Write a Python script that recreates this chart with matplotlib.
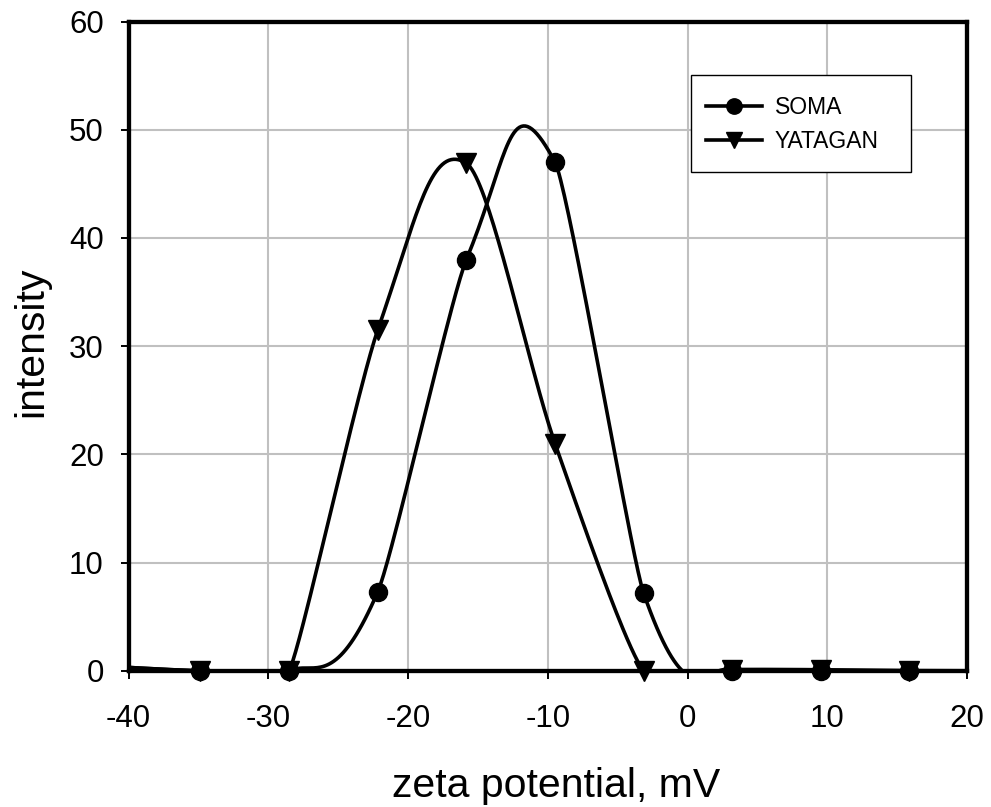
import matplotlib.pyplot as plt
from matplotlib.patches import Rectangle
import numpy as np

plt.rcParams['font.family'] = ['Liberation Sans', 'DejaVu Sans']
plt.rcParams['axes.unicode_minus'] = False

# zeta potential (mV) of the measured points, the first and last lie outside the axis range
zeta = [-41.19, -34.85, -28.51, -22.17, -15.83, -9.49, -3.16, 3.18, 9.52, 15.86, 22.2]
soma = [0.4, 0, 0, 7.3, 38.0, 47.0, 7.2, 0, 0, 0, 0]
yatagan = [0.4, 0, 0, 31.5, 46.9, 21.0, 0, 0.12, 0.1, 0.02, 0]

xticks = [-40, -30, -20, -10, 0, 10, 20]
yticks = [0, 10, 20, 30, 40, 50, 60]

ax_rect = [128.5/991, 1 - 670.8/807, 838.8/991, 649.3/807]


def smooth(x, y, kx, ky, n=40):
    # smoothed line like the spreadsheet one: cubic pieces, tangent from the neighbours,
    # its size set by the lengths of the segments on screen (kx, ky = pixels per unit)
    p = np.column_stack([x, y]).astype(float)
    ext = np.vstack([p[0], p, p[-1]])
    q = ext * [kx, ky]
    t = np.linspace(0, 1, n)[:, None]
    h00 = 2*t**3 - 3*t**2 + 1
    h10 = t**3 - 2*t**2 + t
    h01 = -2*t**3 + 3*t**2
    h11 = t**3 - t**2
    pieces = []
    for i in range(1, len(ext) - 2):
        lp = np.hypot(*(q[i] - q[i-1]))
        l = np.hypot(*(q[i+1] - q[i]))
        ln = np.hypot(*(q[i+2] - q[i+1]))
        m0 = lp / (lp + l) * (ext[i+1] - ext[i-1])
        m1 = ln / (l + ln) * (ext[i+2] - ext[i])
        pieces.append(h00*ext[i] + h10*m0 + h01*ext[i+1] + h11*m1)
    c = np.vstack(pieces)
    return c[:, 0], c[:, 1]


fig = plt.figure(figsize=(9.91, 8.07), dpi=100)
ax = fig.add_axes(ax_rect)

kx = ax_rect[2] * 991 / (xticks[-1] - xticks[0])
ky = ax_rect[3] * 807 / (yticks[-1] - yticks[0])

x = np.array(zeta)
inside = (x >= -40) & (x <= 20)

for vals, mk, ms, name in [(soma, 'o', 13, 'SOMA'), (yatagan, 'v', 14, 'YATAGAN')]:
    sx, sy = smooth(zeta, vals, kx, ky)
    ax.plot(sx, sy, color='black', lw=2.6, zorder=2.6)
    ax.plot(x[inside], np.array(vals)[inside], ls='none', marker=mk, ms=ms,
            color='black', clip_on=False, zorder=3)
    ax.plot([], [], color='black', lw=2.6, marker=mk, ms=ms*0.85, label=name)

ax.set_xlim(xticks[0], xticks[-1])
ax.set_ylim(yticks[0], yticks[-1])
ax.set_xticks(xticks)
ax.set_yticks(yticks)
ax.grid(True, color='#c0c0c0', lw=1.5)
ax.set_axisbelow(True)

for sp in ax.spines.values():
    sp.set_linewidth(3.1)
ax.tick_params(axis='both', direction='out', length=5.8, width=1.4, labelsize=22.5)
ax.tick_params(axis='x', pad=18)
ax.tick_params(axis='y', pad=12)

ax.set_xlabel('zeta potential, mV', fontsize=29.5, va='top')
ax.xaxis.set_label_coords(0.5094, -0.148)
ax.set_ylabel('intensity', fontsize=29.5)
ax.yaxis.set_label_coords(-0.093, 0.5069)

ax.add_patch(Rectangle((691/991, 1 - 171.7/807), 219.7/991, 96.7/807, transform=fig.transFigure,
                       facecolor='white', edgecolor='black', lw=1.0, zorder=4))
ax.legend(loc='upper left', bbox_to_anchor=(706/991, 1 - 96/807), bbox_transform=fig.transFigure,
          frameon=False, fontsize=16.5, handlelength=2.44, handletextpad=0.57,
          labelspacing=0.46, borderpad=0, borderaxespad=0)

fig.savefig('out.png', dpi=100)
